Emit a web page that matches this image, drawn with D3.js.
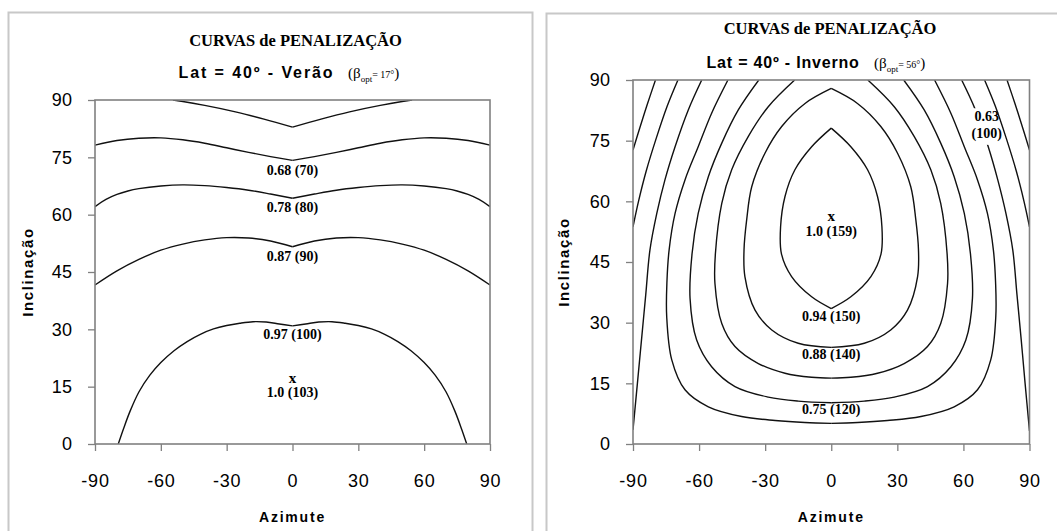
<!DOCTYPE html>
<html><head><meta charset="utf-8">
<script src="https://cdn.jsdelivr.net/npm/d3@7"></script>
<style>body{margin:0;background:#fff} svg{display:block}</style>
</head><body>
<svg id="chart" width="1057" height="531"></svg>
<script>
// ---- axis ticks ----
const azTicks = [-90, -60, -30, 0, 30, 60, 90];
const inclTicks = [0, 15, 30, 45, 60, 75, 90];

// ---- Verão contours [azimute, inclinação] ----
const veraoC60 = [[-54.5,90],[-40,88.6],[-26,86.9],[-13,85.0],[0,82.9],[13,85.0],[26,86.9],[40,88.6],[54.5,90]];
const veraoC70 = [[-90,78.2],[-80,79.4],[-70,80.0],[-60,80.1],[-50,79.6],[-40,78.7],[-30,77.5],[-20,76.3],[-10,75.2],[0,74.2],[10,75.2],[20,76.3],[30,77.5],[40,78.7],[50,79.6],[60,80.1],[70,80.0],[80,79.4],[90,78.2]];
const veraoC80 = [[-90,62.1],[-85,64.0],[-80,65.3],[-75,66.2],[-70,66.8],[-60,67.5],[-50,67.8],[-40,67.6],[-30,67.1],[-20,66.4],[-10,65.4],[0,64.3],[10,65.4],[20,66.4],[30,67.1],[40,67.6],[50,67.8],[60,67.5],[70,66.8],[75,66.2],[80,65.3],[85,64.0],[90,62.1]];
const veraoC90 = [[-90,41.6],[-80,45.3],[-70,48.3],[-60,50.7],[-50,52.3],[-40,53.4],[-30,54.0],[-20,53.9],[-10,53.1],[0,51.6],[10,53.1],[20,53.9],[30,54.0],[40,53.4],[50,52.3],[60,50.7],[70,48.3],[80,45.3],[90,41.6]];
const veraoC100 = [[-79.4,0],[-77,4.0],[-74,8.6],[-70,13.6],[-65,18.0],[-60,21.3],[-54,24.4],[-48,26.8],[-42,28.7],[-36,30.1],[-30,31.0],[-24,31.6],[-18,32.0],[-12,31.9],[-6,31.4],[0,30.9],[6,31.4],[12,31.9],[18,32.0],[24,31.6],[30,31.0],[36,30.1],[42,28.7],[48,26.8],[54,24.4],[60,21.3],[65,18.0],[70,13.6],[74,8.6],[77,4.0],[79.4,0]];
const veraoOpt = [0, 17];
const veraoLabels = [
  [0, 70.4, "0.68 (70)"], [0, 60.6, "0.78 (80)"], [0, 47.8, "0.87 (90)"],
  [0, 27.6, "0.97 (100)"], [0, 12.4, "1.0 (103)"]
];

// ---- Inverno contours ----
const invernoC80W = [[-90,72.7],[-87,78],[-83.5,84],[-79.8,90]];
const invernoC80E = [[79.8,90],[83.5,84],[87,78],[90,72.7]];
const invernoC90W = [[-90,53.7],[-87.5,60],[-84,67.5],[-79.5,75.5],[-74.5,83.5],[-69.6,90]];
const invernoC90E = [[69.6,90],[74.5,83.5],[79.5,75.5],[84,67.5],[87.5,60],[90,53.7]];
const invernoC100W = [[-90,3.5],[-88,15],[-86.1,26],[-84.2,37],[-82.3,48],[-79.2,57],[-75.5,65.3],[-70.9,73.5],[-64.9,82.6],[-58.8,90]];
const invernoC100E = [[59.2,90],[65.3,82.8],[71.2,73.6],[75.6,65.3],[79.3,57],[82.4,48],[84.3,37],[86.2,26],[88,15],[90,3.2]];
const invernoC110 = [[-46.9,90],[-54.3,81.8],[-60.4,73.5],[-66.4,65.3],[-70.9,57],[-73.6,48],[-74.6,40],[-74.7,31.5],[-72.4,20.8],[-66.4,13.4],[-55.8,9.2],[-40.7,6.8],[-25.5,5.8],[-12,5.3],[0,5.1],[12,5.3],[25.5,5.8],[40.7,6.8],[55.8,9.2],[66.4,13.4],[72.4,20.8],[74.7,31.5],[74.6,40],[73.6,48],[70.9,57],[66.4,65.3],[60.4,73.5],[54.3,81.8],[46.9,90]];
const invernoC120 = [[-32.9,90],[-42.2,82.6],[-49.7,74.4],[-55.8,66.1],[-60.4,57],[-63.2,47],[-64.1,36],[-61.1,25.7],[-54.3,19.1],[-43.7,14.2],[-28.6,11.6],[-15,10.6],[0,10.2],[15,10.6],[28.6,11.6],[43.7,14.2],[54.3,19.1],[61.1,25.7],[64.1,36],[63.2,47],[60.4,57],[55.8,66.1],[49.7,74.4],[42.2,82.6],[32.9,90]];
const invernoC130 = [[-16.6,90],[-28.6,83.4],[-37.7,76],[-45.2,67.8],[-49.7,59.5],[-52.6,47],[-52.8,39.7],[-49.7,29.8],[-43.7,24.1],[-33.1,19.9],[-21,17.5],[-8.9,16.5],[0,16.3],[8.9,16.5],[21,17.5],[33.1,19.9],[43.7,24.1],[49.7,29.8],[52.8,39.7],[52.6,47],[49.7,59.5],[45.2,67.8],[37.7,76],[28.6,83.4],[16.6,90]];
const invernoC140 = [[0,87.9],[-11.9,84.2],[-22.5,78.5],[-30.1,71.9],[-36.1,63.6],[-38.4,55.4],[-39.6,48],[-39.2,41.4],[-34.6,33.1],[-27,28.2],[-15,24.9],[0,23.9],[15,24.9],[27,28.2],[34.6,33.1],[39.2,41.4],[39.6,48],[38.4,55.4],[36.1,63.6],[30.1,71.9],[22.5,78.5],[11.9,84.2],[0,87.9]];
const invernoC150 = [[0,78.1],[-8.9,73.5],[-16.5,67.8],[-21,61.2],[-23,53.7],[-22.6,47],[-18,41.4],[-8.9,36.4],[0,33.5],[8.9,36.4],[18,41.4],[22.6,47],[23,53.7],[21,61.2],[16.5,67.8],[8.9,73.5],[0,78.1]];
const invernoOpt = [0, 56];
const invernoLabels = [
  [0, 51.4, "1.0 (159)"], [0, 30.3, "0.94 (150)"], [0, 20.9, "0.88 (140)"], [0, 7.3, "0.75 (120)"]
];
const invernoLabel100 = [[70.6, 79.8, "0.63"], [70.6, 75.7, "(100)"]];

const serif = "'Liberation Serif','Times New Roman',serif";
const sans = "'Liberation Sans',Arial,sans-serif";
const svg = d3.select('#chart');
const defs = svg.append('defs');

// panel frames
svg.append('rect').attr('x',8.5).attr('y',12.5).attr('width',524).attr('height',540)
  .attr('fill','none').attr('stroke','#c8c8c8').attr('stroke-width',2);
svg.append('rect').attr('x',546.5).attr('y',13.5).attr('width',530).attr('height',540)
  .attr('fill','none').attr('stroke','#c8c8c8').attr('stroke-width',2);

function splitAtZero(pts){
  const segs=[]; let cur=[pts[0]];
  for(let i=1;i<pts.length;i++){
    cur.push(pts[i]);
    if(pts[i][0]===0 && i<pts.length-1){ segs.push(cur); cur=[pts[i]]; }
  }
  segs.push(cur); return segs;
}

function drawPanel(cfg){
  const x = d3.scaleLinear().domain([-90,90]).range(cfg.xRange);
  const y = d3.scaleLinear().domain([0,90]).range(cfg.yRange);
  const g = svg.append('g');
  const clipId = 'clip-'+cfg.id;
  defs.append('clipPath').attr('id',clipId).append('rect')
    .attr('x',x(-90)).attr('y',y(90)).attr('width',x(90)-x(-90)).attr('height',y(0)-y(90));

  const lg = g.append('g').attr('font-family',serif).attr('font-weight','bold')
    .attr('font-size',14).attr('text-anchor','middle').attr('fill','#000');
  cfg.labels.forEach(l => lg.append('text').attr('x',x(l[0])).attr('y',y(l[1])).text(l[2]));
  let maskId = null;
  if(cfg.gapLabels){
    const gl = lg.append('g');
    cfg.gapLabels.forEach(l => gl.append('text').attr('x',x(l[0])).attr('y',y(l[1])).text(l[2]));
    const bb = gl.node().getBBox();
    maskId = 'mask-'+cfg.id;
    const m = defs.append('mask').attr('id',maskId).attr('maskUnits','userSpaceOnUse')
      .attr('x',0).attr('y',0).attr('width',1057).attr('height',531);
    m.append('rect').attr('x',0).attr('y',0).attr('width',1057).attr('height',531).attr('fill','#fff');
    m.append('rect').attr('x',bb.x-2).attr('y',bb.y-1).attr('width',bb.width+4).attr('height',bb.height+4).attr('fill','#000');
  }

  const line = d3.line().x(d=>x(d[0])).y(d=>y(d[1])).curve(d3.curveCatmullRom.alpha(0.5));
  const cg = g.append('g').attr('clip-path',`url(#${clipId})`);
  cfg.contours.forEach(c => {
    splitAtZero(c.pts).forEach(seg => {
      const p = cg.append('path').attr('d',line(seg)).attr('fill','none')
        .attr('stroke','#111').attr('stroke-width',1.4).attr('stroke-linejoin','round');
      if(c.gap && maskId) p.attr('mask',`url(#${maskId})`);
    });
  });

  g.append('rect').attr('x',x(-90)).attr('y',y(90)).attr('width',x(90)-x(-90)).attr('height',y(0)-y(90))
    .attr('fill','none').attr('stroke','#808080').attr('stroke-width',1.6);

  const yAxis = d3.axisLeft(y).tickValues(inclTicks).tickSize(7).tickSizeOuter(0).tickPadding(15.5).tickFormat(d=>String(d));
  g.append('g').attr('transform',`translate(${x(-90)},0)`).call(yAxis)
    .call(a=>a.select('.domain').remove())
    .call(a=>a.selectAll('line').attr('stroke','#808080').attr('stroke-width',1.3))
    .call(a=>a.selectAll('text').attr('font-family',sans).attr('font-size',18).attr('letter-spacing',0.4).attr('fill','#000'));
  const xAxis = d3.axisBottom(x).tickValues(azTicks).tickSize(7).tickSizeOuter(0).tickPadding(23).tickFormat(d=>String(d));
  g.append('g').attr('transform',`translate(0,${y(0)})`).call(xAxis)
    .call(a=>a.select('.domain').remove())
    .call(a=>a.selectAll('line').attr('stroke','#808080').attr('stroke-width',1.3))
    .call(a=>a.selectAll('text').attr('font-family',sans).attr('font-size',18).attr('letter-spacing',0.8).attr('fill','#000'));

  g.append('text').attr('x',x(cfg.opt[0])).attr('y',y(cfg.opt[1])+3.5)
    .attr('text-anchor','middle').attr('font-family',serif).attr('font-weight','bold').attr('font-size',15).text('x');

  g.append('text').attr('x',(x(-90)+x(90))/2).attr('y',cfg.xTitleY).attr('text-anchor','middle')
    .attr('font-family',sans).attr('font-weight','bold').attr('font-size',14).attr('letter-spacing',1.8).text('Azimute');
  g.append('text').attr('transform',`translate(${cfg.yTitleX},${(y(0)+y(90))/2}) rotate(-90)`).attr('text-anchor','middle')
    .attr('font-family',sans).attr('font-weight','bold').attr('font-size',15).attr('letter-spacing',1.6).text('Inclinação');

  g.append('text').attr('x',cfg.title1[0]).attr('y',cfg.title1[1]).attr('text-anchor','middle')
    .attr('font-family',serif).attr('font-weight','bold').attr('font-size',16.5).text('CURVAS de PENALIZAÇÃO');
  g.append('text').attr('x',cfg.title2[0]).attr('y',cfg.title2[1])
    .attr('font-family',sans).attr('font-weight','bold').attr('font-size',16).attr('letter-spacing',cfg.title2Spacing).text(cfg.title2Text);
  const b = g.append('text').attr('x',cfg.beta[0]).attr('y',cfg.beta[1]).attr('font-family',serif);
  b.append('tspan').attr('font-size',15).text('(β');
  b.append('tspan').attr('font-size',9).attr('dy',4).text('opt');
  b.append('tspan').attr('font-size',10).attr('dy',-4).text(cfg.betaText);
  b.append('tspan').attr('font-size',15).text(')');
}

drawPanel({
  id:'verao', xRange:[95,490], yRange:[444,100],
  contours:[{pts:veraoC60},{pts:veraoC70},{pts:veraoC80},{pts:veraoC90},{pts:veraoC100}],
  labels: veraoLabels, opt: veraoOpt,
  xTitleY: 522, yTitleX: 33,
  title1:[295.5,46], title2:[178.5,78], title2Text:'Lat = 40º - Verão', title2Spacing:1.9,
  beta:[348,78], betaText:'= 17°'
});
drawPanel({
  id:'inverno', xRange:[633,1029.5], yRange:[444,80],
  contours:[{pts:invernoC80W},{pts:invernoC80E},{pts:invernoC90W},{pts:invernoC90E},
            {pts:invernoC100W},{pts:invernoC100E, gap:true},{pts:invernoC110},{pts:invernoC120},
            {pts:invernoC130},{pts:invernoC140},{pts:invernoC150}],
  labels: invernoLabels, gapLabels: invernoLabel100, opt: invernoOpt,
  xTitleY: 522, yTitleX: 569,
  title1:[830,34], title2:[706.5,68], title2Text:'Lat = 40º - Inverno', title2Spacing:0.8,
  beta:[874,68], betaText:'= 56°'
});
</script>
</body></html>
